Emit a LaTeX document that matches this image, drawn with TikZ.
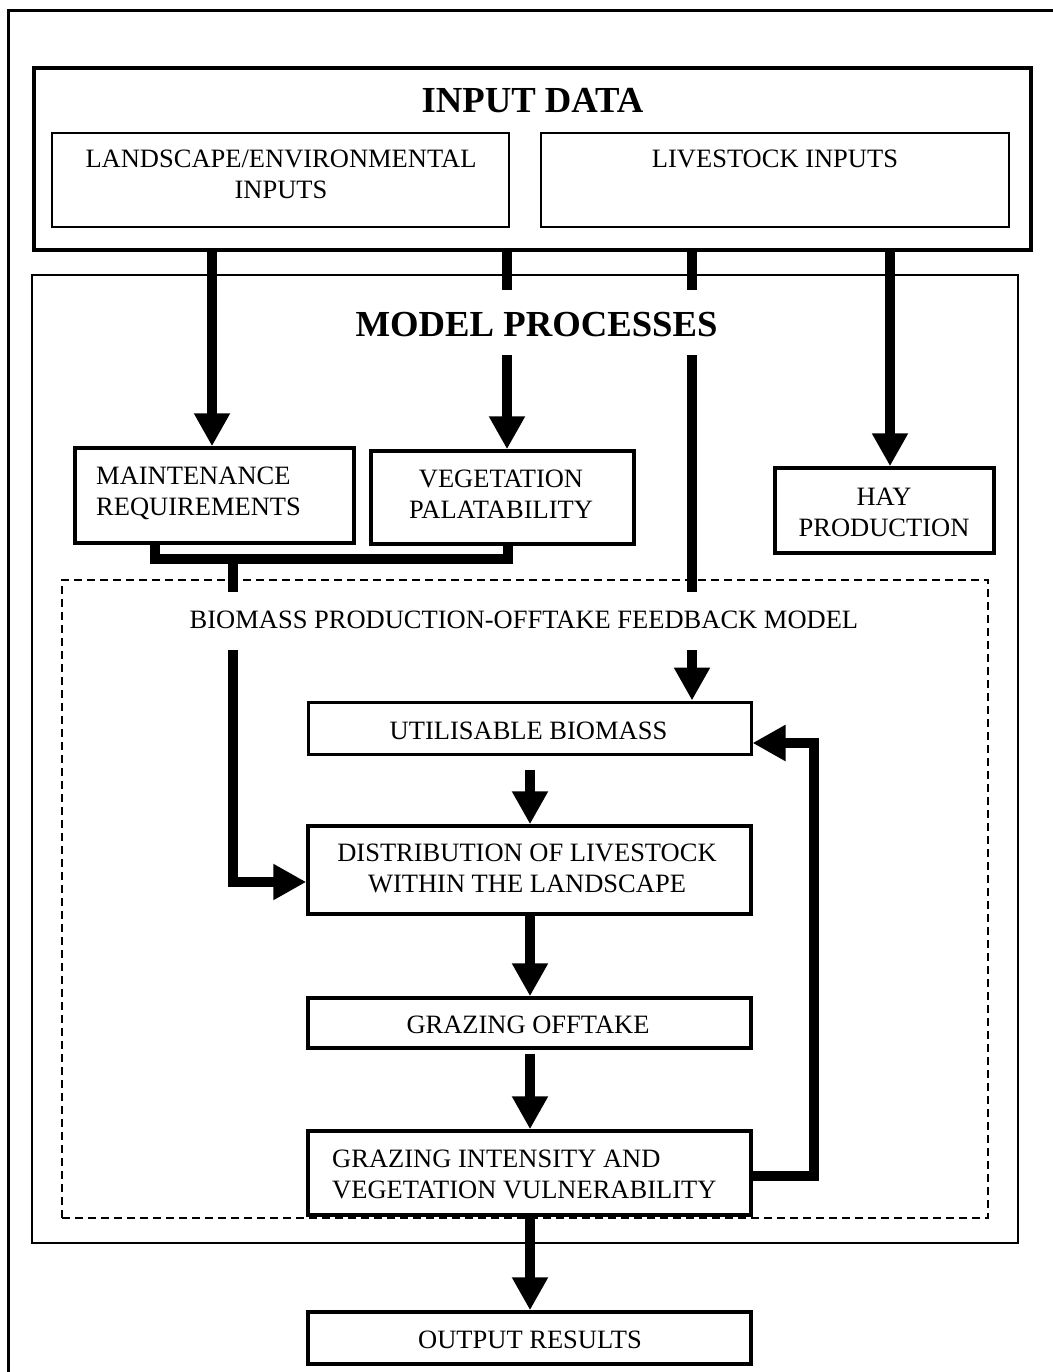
\documentclass[tikz,border=0pt]{standalone}
\usepackage{fontspec}
\setmainfont{Liberation Serif}
\usetikzlibrary{arrows.meta}
\begin{document}
\begin{tikzpicture}[x=1pt,y=-1pt,
  thinbox/.style={draw, line width=2pt, inner sep=0pt},
  procbox/.style={draw, line width=3.5pt, inner sep=0pt},
  txt/.style={inner sep=0pt, anchor=base, font=\fontsize{26.5}{31}\selectfont},
  txtl/.style={txt, anchor=base west},
  titletxt/.style={inner sep=0pt, anchor=base, font=\fontsize{36.7}{44}\selectfont\bfseries},
  conn/.style={line width=10pt},
  arr/.style={conn, -{Triangle[width=34pt,length=33pt]}}
]
\useasboundingbox (0,0) rectangle (1052,1372);
% outer frame (runs off the page on the right and bottom)
\draw[line width=3pt] (8,11) rectangle (1075,1395);

% boxes
\node[draw, line width=4pt, inner sep=0pt, minimum width=997pt, minimum height=182pt] (input) at (532.5,159) {};
\node[thinbox, minimum width=457pt, minimum height=94pt] (land) at (280.5,180) {};
\node[thinbox, minimum width=468pt, minimum height=94pt] (live) at (775,180) {};
\node[draw, line width=1.6pt, inner sep=0pt, minimum width=986pt, minimum height=968pt] (mp) at (525,759) {};
\node[draw, dashed, dash pattern=on 8pt off 5pt, line width=1.5pt, inner sep=0pt, minimum width=926pt, minimum height=638pt] (fb) at (525,899) {};
\node[procbox, minimum width=279pt, minimum height=95pt] (maint) at (214.5,495.5) {};
\node[procbox, minimum width=263pt, minimum height=93pt] (veg) at (502.5,497.5) {};
\node[procbox, minimum width=219pt, minimum height=85pt] (hay) at (884.5,510.5) {};
\node[procbox, line width=3pt, minimum width=443pt, minimum height=52pt] (util) at (529.5,728) {};
\node[procbox, minimum width=443pt, minimum height=88pt] (dist) at (529.5,870) {};
\node[procbox, minimum width=443pt, minimum height=50pt] (off) at (529.5,1023) {};
\node[procbox, minimum width=443pt, minimum height=84pt] (inten) at (529.5,1173) {};
\node[procbox, minimum width=443pt, minimum height=52pt] (out) at (529.5,1338) {};

% helper coordinates for connector positions
\coordinate (xa) at (212,0);
\coordinate (xb) at (507,0);
\coordinate (xc) at (692,0);
\coordinate (xd) at (890,0);
\coordinate (xm) at (155,0);
\coordinate (xv) at (508,0);
\coordinate (xj) at (233,0);
\coordinate (yj) at (0,559);
\coordinate (ydist) at (0,882);
\coordinate (xl) at (530,0);
\coordinate (xf) at (814,0);
\coordinate (yfa) at (0,1176);
\coordinate (yfb) at (0,743);

% connectors
\draw[arr] (input.south -| xa) -- (maint.north -| xa);
\draw[arr] (input.south -| xb) -- (veg.north -| xb);
\draw[arr] (input.south -| xc) -- (util.north -| xc);
\draw[arr] (input.south -| xd) -- (hay.north -| xd);
\draw[conn] (maint.south -| xm) |- (yj -| xv) -- (veg.south -| xv);
\draw[arr] (yj -| xj) |- (dist.west |- ydist);
\draw[arr, shorten <=14pt] (util.south -| xl) -- (dist.north -| xl);
\draw[arr] (dist.south -| xl) -- (off.north -| xl);
\draw[arr, shorten <=4pt] (off.south -| xl) -- (inten.north -| xl);
\draw[arr] (inten.south -| xl) -- (out.north -| xl);
\draw[arr] (inten.east |- yfa) -| (xf |- yfb) -- (util.east |- yfb);

% texts
\node[titletxt] (tinput) at (532.5,113) {INPUT DATA};
\node[txt] (tland) at (281,168) {\begin{tabular}[t]{@{}c@{}}LANDSCAPE/ENVIRONMENTAL\\INPUTS\end{tabular}};
\node[txt] (tlive) at (775,168) {LIVESTOCK INPUTS};
\node[titletxt, fill=white, text height=46pt, text depth=19pt, inner xsep=6pt] (tmp) at (536.5,336) {MODEL PROCESSES};
\node[txt, fill=white, text height=36pt, text depth=22pt, inner xsep=4pt] (tfb) at (524,628) {BIOMASS PRODUCTION-OFFTAKE FEEDBACK MODEL};
\node[txtl] (tmaint) at (96,484) {\begin{tabular}[t]{@{}l@{}}MAINTENANCE\\REQUIREMENTS\end{tabular}};
\node[txt] (tveg) at (501,487) {\begin{tabular}[t]{@{}c@{}}VEGETATION\\PALATABILITY\end{tabular}};
\node[txt] (thay) at (884,505) {\begin{tabular}[t]{@{}c@{}}HAY\\PRODUCTION\end{tabular}};
\node[txt] (tutil) at (528.5,739) {UTILISABLE BIOMASS};
\node[txt] (tdist) at (527,861) {\begin{tabular}[t]{@{}c@{}}DISTRIBUTION OF LIVESTOCK\\WITHIN THE LANDSCAPE\end{tabular}};
\node[txt] (toff) at (528,1033) {GRAZING OFFTAKE};
\node[txtl] (tinten) at (332,1167) {\begin{tabular}[t]{@{}l@{}}GRAZING INTENSITY AND\\VEGETATION VULNERABILITY\end{tabular}};
\node[txt] (tout) at (530,1348) {OUTPUT RESULTS};
\end{tikzpicture}
\end{document}
